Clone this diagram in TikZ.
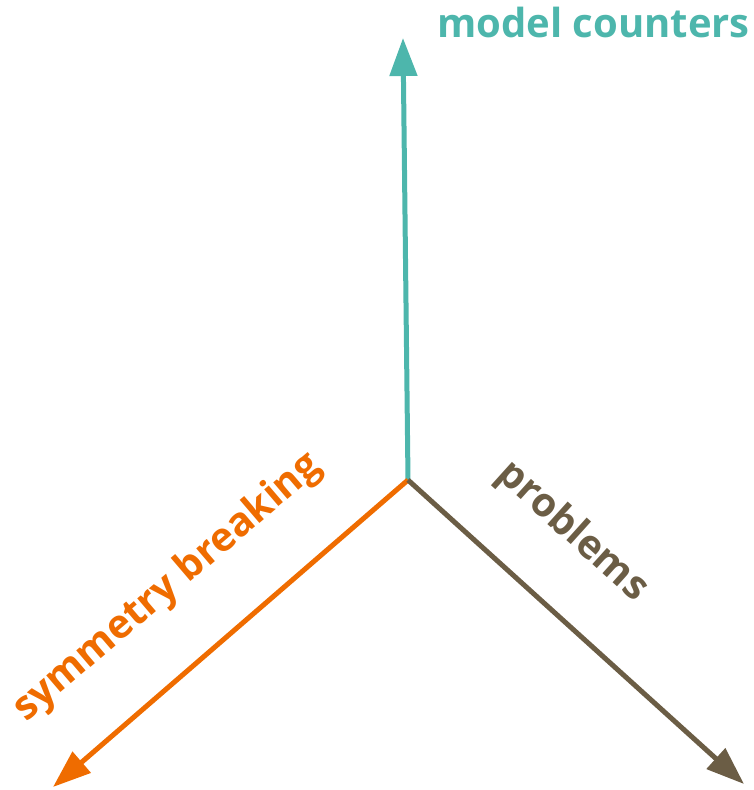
\documentclass[tikz,border=0pt]{standalone}
\usepackage{fontspec}
\setsansfont{Open Sans}
\usepackage{tikz}
\usetikzlibrary{arrows.meta}
\definecolor{tealc}{HTML}{4DB6AC}
\definecolor{orangec}{HTML}{EF6C00}
\definecolor{brownc}{HTML}{6B5D45}
\tikzset{
    axisarrow/.style={-{Triangle[length=38pt,width=27pt]}, line width=5pt},
    axislabel/.style={font=\sffamily\bfseries\fontsize{40}{48}\selectfont, inner sep=0pt}
}

\begin{document}
\begin{tikzpicture}[x=1pt, y=-1pt]
    \useasboundingbox (0,0) rectangle (754,790);
    \coordinate (O) at (408,480);
    \coordinate (mc) at (403,38);
    \coordinate (sb) at (53,787);
    \coordinate (pr) at (744,784);
    % drei Achsen
    \draw[axisarrow, tealc] (O) -- (mc);
    \draw[axisarrow, orangec] (O) -- (sb);
    \draw[axisarrow, brownc] (O) -- (pr);
    % Beschriftungen
    \node[axislabel, tealc, anchor=base west] (mclabel) at (437,37) {model counters};
    \node[axislabel, orangec, rotate=40.5] (sblabel) at (168,588) {symmetry breaking};
    \node[axislabel, brownc, rotate=-42] (prlabel) at (572,532) {problems};
\end{tikzpicture}
\end{document}
